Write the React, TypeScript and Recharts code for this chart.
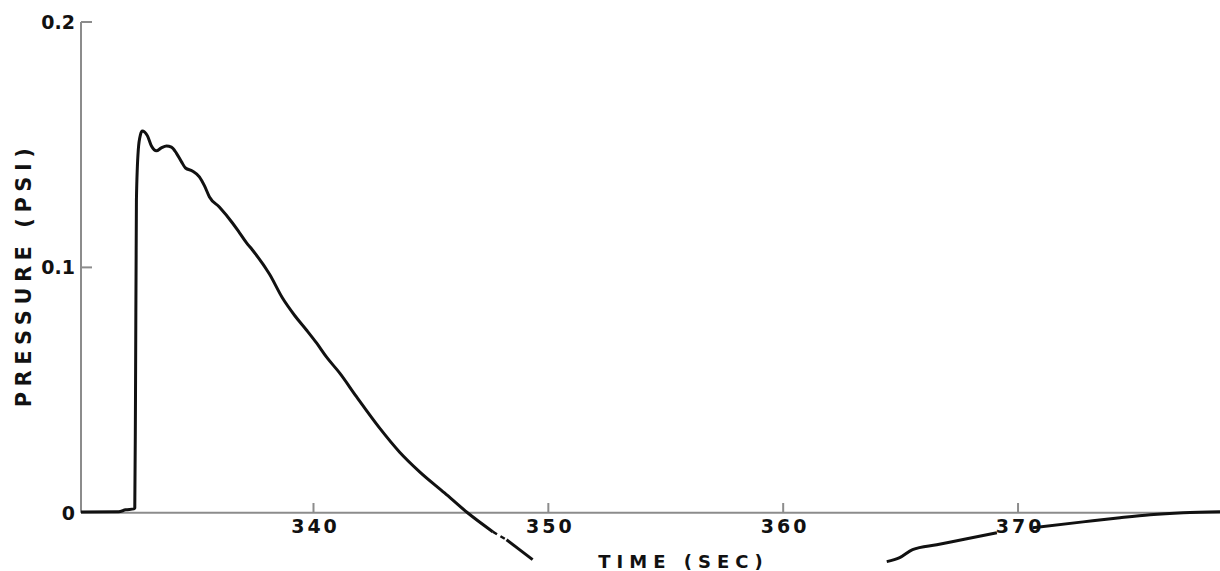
import React from 'react';
import { LineChart, Line, XAxis, YAxis, ReferenceLine, Label } from 'recharts';

// time axis (sec) and tick values
const timeTicks = [340, 350, 360, 370];
const pressureTicks = [0, 0.1, 0.2];

// positive phase, down to where the trace breaks below the axis
const pulseTime = [
    330.1, 331.7, 332.0, 332.35, 332.39, 332.42, 332.46, 332.54, 332.63, 332.71,
    332.93, 333.1, 333.31, 333.52, 333.74, 333.95, 334.16, 334.38, 334.55, 334.84,
    335.14, 335.36, 335.57, 335.99, 336.55, 336.85, 337.15, 337.4, 338.13, 338.68,
    339.19, 339.7, 340.13, 340.55, 341.11, 341.83, 342.81, 343.66, 344.52, 345.58,
    346.56, 347.63,
];
const pulsePressure = [
    0.0003, 0.0004, 0.0012, 0.0016, 0.002, 0.046, 0.1275, 0.148, 0.154, 0.1556,
    0.1536, 0.1495, 0.1475, 0.1487, 0.1495, 0.149, 0.1466, 0.143, 0.1405, 0.1393,
    0.1369, 0.1332, 0.1287, 0.1246, 0.1181, 0.1141, 0.11, 0.1071, 0.0972, 0.0875,
    0.0805, 0.0745, 0.0692, 0.0635, 0.057, 0.0473, 0.0346, 0.0248, 0.0167, 0.0081,
    0, -0.0077,
];

// faint dashed piece and the short tail after it
const gapTime = [347.63, 348.22];
const gapPressure = [-0.0077, -0.011];
const tailTime = [348.22, 349.33];
const tailPressure = [-0.011, -0.0191];

// recovery trace, broken where the 370 label sits
const recoveryTime = [364.41, 364.96, 365.51, 366.54, 367.82, 369.1];
const recoveryPressure = [-0.0199, -0.0183, -0.015, -0.013, -0.0106, -0.0081];
const recoveryEndTime = [370.63, 372.77, 374.34, 375.62, 377.03, 378.6];
const recoveryEndPressure = [-0.0061, -0.0037, -0.002, -0.0008, 0, 0.0004];

const toPoints = (ts: number[], ps: number[]) => ts.map((t, i) => ({ t, p: ps[i] }));

const pulseData = toPoints(pulseTime, pulsePressure);
const gapData = toPoints(gapTime, gapPressure);
const tailData = toPoints(tailTime, tailPressure);
const recoveryData = toPoints(recoveryTime, recoveryPressure);
const recoveryEndData = toPoints(recoveryEndTime, recoveryEndPressure);

const X_MIN = 330.1;
const X_MAX = 378.6;

const INK = '#111';
const AXIS = '#8c8c8c';
const FONT = "'DejaVu Sans', sans-serif";

const PressureTick = (props: any) => {
    const { x, y, payload } = props;
    const v = payload.value;
    return (
        <g>
            <text x={x} y={y} dy={7} textAnchor="end" fontFamily={FONT} fontWeight={700} fontSize={19} fill={INK}>
                {v === 0 ? '0' : v.toFixed(1)}
            </text>
            {v > 0 && <line x1={x + 6} y1={y} x2={x + 17} y2={y} stroke={AXIS} strokeWidth={2} />}
        </g>
    );
};

const PressureTitle = () => (
    <text
        transform="translate(24,275) rotate(-90)"
        textAnchor="middle"
        dominantBaseline="central"
        fontFamily={FONT}
        fontWeight={700}
        fontSize={21}
        letterSpacing={5.5}
        fill={INK}
    >
        PRESSURE (PSI)
    </text>
);

export default function App() {
    return (
        <div style={{ position: 'absolute', left: 0, top: 0, background: '#fff' }}>
            <LineChart width={1220} height={571} margin={{ top: 22, right: 0, bottom: 3, left: 0 }}>
                <XAxis type="number" dataKey="t" domain={[X_MIN, X_MAX]} allowDataOverflow hide />
                <YAxis
                    type="number"
                    dataKey="p"
                    width={81}
                    domain={[-0.0225, 0.2]}
                    allowDataOverflow
                    ticks={pressureTicks}
                    axisLine={false}
                    tickLine={false}
                    tickSize={0}
                    tickMargin={6}
                    tick={<PressureTick />}
                >
                    <Label content={() => <PressureTitle />} />
                </YAxis>

                {/* axes drawn as reference lines so they cross at zero */}
                <ReferenceLine y={0} stroke={AXIS} strokeWidth={2}>
                    <Label
                        value="TIME (SEC)"
                        position="bottom"
                        offset={42}
                        dx={33}
                        fontFamily={FONT}
                        fontWeight={700}
                        fontSize={18}
                        letterSpacing={6}
                        fill={INK}
                    />
                </ReferenceLine>
                <ReferenceLine
                    segment={[{ x: X_MIN, y: 0 }, { x: X_MIN, y: 0.2 }]}
                    stroke={AXIS}
                    strokeWidth={2}
                />
                {timeTicks.map((t) => (
                    <ReferenceLine
                        key={t}
                        segment={[{ x: t, y: 0 }, { x: t, y: 0.004 }]}
                        stroke={AXIS}
                        strokeWidth={2}
                    >
                        <Label
                            value={String(t)}
                            position="bottom"
                            offset={7}
                            dx={2}
                            fontFamily={FONT}
                            fontWeight={700}
                            fontSize={19}
                            letterSpacing={3}
                            fill={INK}
                        />
                    </ReferenceLine>
                ))}

                <Line data={pulseData} dataKey="p" type="monotone" stroke={INK} strokeWidth={3} dot={false} isAnimationActive={false} />
                <Line data={gapData} dataKey="p" type="linear" stroke={INK} strokeWidth={2.5} strokeDasharray="5 4" dot={false} isAnimationActive={false} />
                <Line data={tailData} dataKey="p" type="linear" stroke={INK} strokeWidth={3} dot={false} isAnimationActive={false} />
                <Line data={recoveryData} dataKey="p" type="monotone" stroke={INK} strokeWidth={3} dot={false} isAnimationActive={false} />
                <Line data={recoveryEndData} dataKey="p" type="monotone" stroke={INK} strokeWidth={3} dot={false} isAnimationActive={false} />
            </LineChart>
        </div>
    );
}
